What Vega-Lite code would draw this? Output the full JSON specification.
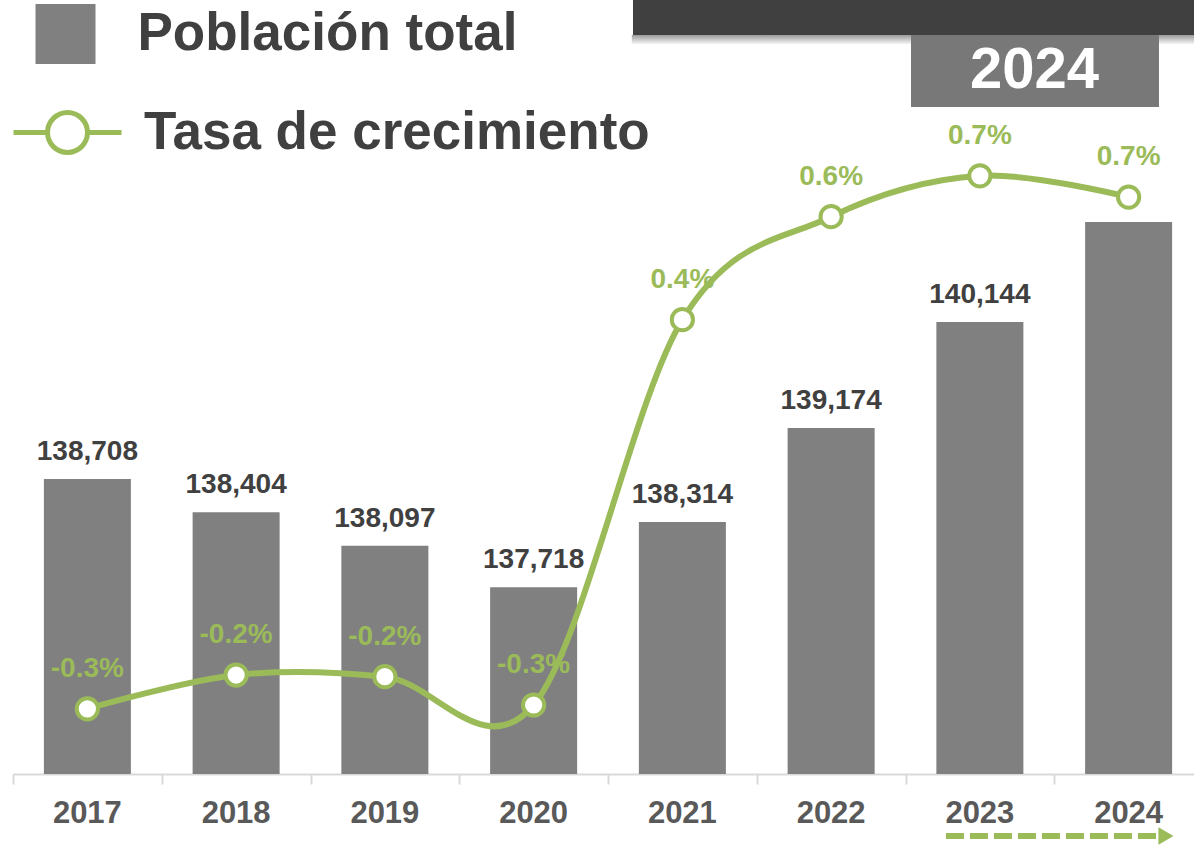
{
  "$schema": "https://vega.github.io/schema/vega-lite/v6.json",
  "width": 1190,
  "height": 774,
  "autosize": {"type": "none"},
  "padding": {"left": 13, "top": 0, "right": 0, "bottom": 71},
  "background": "white",
  "config": {
    "font": "Liberation Sans",
    "view": {"stroke": null},
    "locale": {"number": {"decimal": ".", "thousands": ",", "grouping": [3], "currency": ["$", ""], "minus": "-"}}
  },
  "datasets": {
    "years": [
      {"year": "2017", "poblacion": 138708, "tasa": -0.00281},
      {"year": "2018", "poblacion": 138404, "tasa": -0.00219},
      {"year": "2019", "poblacion": 138097, "tasa": -0.00222},
      {"year": "2020", "poblacion": 137718, "tasa": -0.00274},
      {"year": "2021", "poblacion": 138314, "tasa": 0.00433},
      {"year": "2022", "poblacion": 139174, "tasa": 0.00622},
      {"year": "2023", "poblacion": 140144, "tasa": 0.00697},
      {"year": "2024", "poblacion": 141060, "tasa": 0.00658}
    ],
    "deco": [{"label": "2024"}]
  },
  "layer": [
    {
      "data": {"name": "years"},
      "encoding": {
        "x": {
          "field": "year",
          "type": "ordinal",
          "scale": {"paddingInner": 0.415, "paddingOuter": 0.2075},
          "axis": {
            "title": null,
            "labelAngle": 0,
            "labelFont": "Liberation Sans",
            "labelFontSize": 31,
            "labelFontWeight": "bold",
            "labelColor": "#595959",
            "labelPadding": 14,
            "tickSize": 10,
            "tickOpacity": 0,
            "domainColor": "#d9d9d9",
            "domainWidth": 2,
            "grid": false
          }
        }
      },
      "layer": [
        {
          "layer": [
            {
              "mark": {"type": "bar"},
              "encoding": {
                "y": {
                  "field": "poblacion",
                  "type": "quantitative",
                  "scale": {"domain": [136010, 143090], "nice": false, "zero": false},
                  "axis": null
                },
                "y2": {"datum": 136010},
                "fill": {
                  "datum": "Población total",
                  "type": "nominal",
                  "scale": {"range": ["#808080"]},
                  "legend": {
                    "orient": "none",
                    "legendX": 22.5,
                    "legendY": 4,
                    "title": null,
                    "padding": 0,
                    "symbolType": "square",
                    "symbolSize": 3600,
                    "symbolStrokeWidth": 0,
                    "labelFont": "Liberation Sans",
                    "labelFontSize": 53,
                    "labelFontWeight": "bold",
                    "labelColor": "#404040",
                    "labelOffset": 42,
                    "labelLimit": 1000
                  }
                }
              }
            },
            {
              "transform": [{"filter": "datum.year !== '2024'"}],
              "mark": {
                "type": "text",
                "dy": -27,
                "baseline": "middle",
                "align": "center",
                "fontSize": 28,
                "fontWeight": "bold",
                "color": "#404040"
              },
              "encoding": {
                "y": {"field": "poblacion", "type": "quantitative"},
                "text": {"field": "poblacion", "type": "quantitative", "format": ",d"}
              }
            }
          ]
        },
        {
          "layer": [
            {
              "mark": {"type": "line", "interpolate": "cardinal", "tension": 0, "strokeWidth": 6},
              "encoding": {
                "y": {
                  "field": "tasa",
                  "type": "quantitative",
                  "scale": {"domain": [-0.004006, 0.010196], "nice": false, "zero": false},
                  "axis": null
                },
                "stroke": {
                  "datum": "Tasa de crecimiento",
                  "type": "nominal",
                  "scale": {"range": ["#9bbb59"]},
                  "legend": {
                    "orient": "none",
                    "legendX": -2,
                    "legendY": 76,
                    "title": null,
                    "padding": 0,
                    "symbolType": "M-1,0L-0.37,0M0.37,0L1,0M0.37,0A0.37,0.37,0,1,1,-0.37,0A0.37,0.37,0,1,1,0.37,0Z",
                    "symbolSize": 11664,
                    "symbolStrokeWidth": 5,
                    "symbolFillColor": "white",
                    "labelFont": "Liberation Sans",
                    "labelFontSize": 53,
                    "labelFontWeight": "bold",
                    "labelColor": "#404040",
                    "labelOffset": 20,
                    "labelLimit": 1000
                  }
                }
              }
            },
            {
              "mark": {
                "type": "point",
                "filled": true,
                "fill": "white",
                "stroke": "#9bbb59",
                "strokeWidth": 4,
                "size": 450,
                "opacity": 1
              },
              "encoding": {
                "y": {"field": "tasa", "type": "quantitative"}
              }
            },
            {
              "mark": {
                "type": "text",
                "dy": -40,
                "baseline": "middle",
                "align": "center",
                "fontSize": 28,
                "fontWeight": "bold",
                "color": "#9bbb59"
              },
              "encoding": {
                "y": {"field": "tasa", "type": "quantitative"},
                "text": {"field": "tasa", "type": "quantitative", "format": ".1%"}
              }
            }
          ]
        }
      ],
      "resolve": {"scale": {"y": "independent"}}
    },
    {
      "data": {"name": "deco"},
      "layer": [
        {
          "mark": {
            "type": "rect",
            "color": {
              "gradient": "linear",
              "x1": 0, "y1": 0, "x2": 0, "y2": 1,
              "stops": [{"offset": 0, "color": "#9a9a9a"}, {"offset": 1, "color": "#ffffff"}]
            }
          },
          "encoding": {
            "x": {
              "datum": 2020.66,
              "type": "quantitative",
              "scale": {"domain": [2016.5, 2024.5], "nice": false, "zero": false},
              "axis": {
                "orient": "bottom",
                "values": [2016.5, 2017.5, 2018.5, 2019.5, 2020.5, 2021.5, 2022.5, 2023.5],
                "labels": false,
                "domain": false,
                "ticks": true,
                "tickSize": 10,
                "tickWidth": 2,
                "tickColor": "#d9d9d9",
                "grid": false,
                "title": null
              }
            },
            "x2": {"datum": 2024.5},
            "y": {"datum": 142770, "type": "quantitative", "scale": {"domain": [136010, 143090], "nice": false, "zero": false}, "axis": null},
            "y2": {"datum": 142680}
          }
        },
        {
          "mark": {"type": "rect", "color": "#404040"},
          "encoding": {
            "x": {"datum": 2020.668, "type": "quantitative"},
            "x2": {"datum": 2024.5},
            "y": {"datum": 143090, "type": "quantitative"},
            "y2": {"datum": 142770}
          }
        },
        {
          "mark": {"type": "rect", "color": "#787878"},
          "encoding": {
            "x": {"datum": 2022.537, "type": "quantitative"},
            "x2": {"datum": 2024.204},
            "y": {"datum": 142770, "type": "quantitative"},
            "y2": {"datum": 142111}
          }
        },
        {
          "mark": {
            "type": "text",
            "fontSize": 58,
            "fontWeight": "bold",
            "color": "white",
            "align": "center",
            "baseline": "middle"
          },
          "encoding": {
            "x": {"datum": 2023.367, "type": "quantitative"},
            "y": {"datum": 142441, "type": "quantitative"},
            "text": {"field": "label", "type": "nominal"}
          }
        },
        {
          "mark": {"type": "rule", "color": "#9bbb59", "strokeWidth": 6, "strokeDash": [18, 6]},
          "encoding": {
            "x": {"datum": 2022.772, "type": "quantitative"},
            "x2": {"datum": 2024.205},
            "y": {"datum": 135443, "type": "quantitative"}
          }
        },
        {
          "mark": {"type": "point", "shape": "triangle-right", "filled": true, "color": "#9bbb59", "size": 300, "opacity": 1},
          "encoding": {
            "x": {"datum": 2024.251, "type": "quantitative"},
            "y": {"datum": 135443, "type": "quantitative"}
          }
        }
      ]
    }
  ],
  "resolve": {"scale": {"x": "independent", "y": "independent"}}
}
